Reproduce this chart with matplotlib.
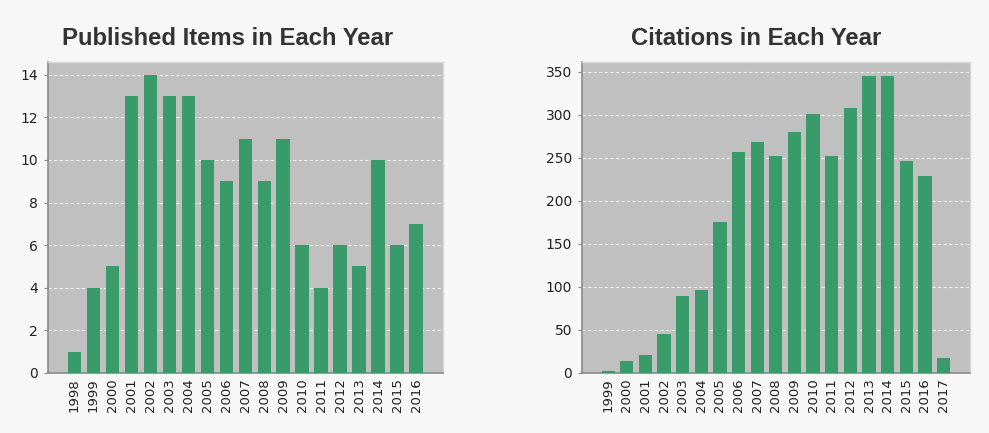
import numpy as np
import matplotlib.pyplot as plt

# published items per year
pub_years = ['1998', '1999', '2000', '2001', '2002', '2003', '2004', '2005', '2006', '2007',
             '2008', '2009', '2010', '2011', '2012', '2013', '2014', '2015', '2016']
pub_counts = [1, 4, 5, 13, 14, 13, 13, 10, 9, 11, 9, 11, 6, 4, 6, 5, 10, 6, 7]

# citations per year
cit_years = ['1999', '2000', '2001', '2002', '2003', '2004', '2005', '2006', '2007', '2008',
             '2009', '2010', '2011', '2012', '2013', '2014', '2015', '2016', '2017']
cit_counts = [2, 14, 21, 45, 89, 96, 175, 257, 269, 252, 280, 301, 252, 308, 345, 345, 247, 229, 17]

bar_color = '#389b69'
bg_color = '#c0c0c0'
fig_color = '#f7f7f7'

fig = plt.figure(figsize=(9.89, 4.33), dpi=100, facecolor=fig_color)


def draw_panel(rect, years, counts, title, title_x, ymax, yticks):
    ax = fig.add_axes(rect)
    ax.set_facecolor(bg_color)
    x = np.arange(len(years))
    ax.bar(x, counts, width=0.71, color=bar_color, zorder=3)
    ax.set_xlim(-1.4, len(years) - 1 + 1.42)
    ax.set_ylim(0, ymax)
    ax.set_yticks(yticks)
    ax.set_xticks(x)
    ax.set_xticklabels(years, rotation=90, fontsize=9.5, color='#222222')
    ax.tick_params(axis='x', length=0, pad=4)
    ax.tick_params(axis='y', length=3, color='#888888', labelsize=10, labelcolor='#222222', pad=4)
    ax.yaxis.grid(True, color='white', linestyle=(0, (3, 2)), linewidth=0.8, alpha=0.75, zorder=0)
    ax.set_axisbelow(True)
    for s in ['left', 'bottom']:
        ax.spines[s].set_color('#8a8a8a')
        ax.spines[s].set_linewidth(1.2)
    for s in ['top', 'right']:
        ax.spines[s].set_color('#d8d8d8')
        ax.spines[s].set_linewidth(1.0)
    fig.text(title_x, 0.91, title, ha='center', va='center', fontsize=17.2, fontweight='bold',
             fontstretch='normal', family='Liberation Sans', color='#333333')
    return ax


draw_panel([0.0485, 0.1386, 0.3994, 0.7182], pub_years, pub_counts,
           'Published Items in Each Year', 228 / 989, 14.6, range(0, 15, 2))
draw_panel([0.5885, 0.1386, 0.3923, 0.7182], cit_years, cit_counts,
           'Citations in Each Year', 756 / 989, 361.5, range(0, 351, 50))

fig.savefig('out.png', dpi=100, facecolor=fig_color)
